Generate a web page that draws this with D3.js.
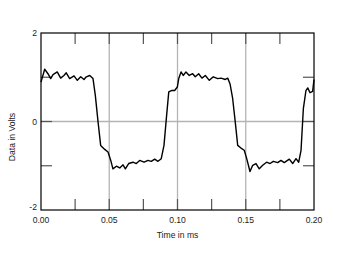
<!DOCTYPE html>
<html>
<head>
<meta charset="utf-8">
<script src="https://cdn.jsdelivr.net/npm/d3@7"></script>
<style>
  body { margin: 0; background: #fff; }
  svg text { font-family: "Liberation Sans", Arial, sans-serif; font-size: 8.6px; fill: #222; }
</style>
</head>
<body>
<svg id="chart" width="350" height="255"></svg>
<script>
// trace: time in ms
var times = [
  0.0000, 0.0027, 0.0051, 0.0071, 0.0088, 0.0119, 0.0144, 0.0168, 0.0185, 0.0210,
  0.0242, 0.0266, 0.0291, 0.0315, 0.0332, 0.0357, 0.0381, 0.0398, 0.0418, 0.0437,
  0.0467, 0.0491, 0.0511, 0.0527, 0.0552, 0.0577, 0.0601, 0.0618, 0.0642, 0.0674,
  0.0698, 0.0723, 0.0755, 0.0784, 0.0808, 0.0833, 0.0857, 0.0881, 0.0901, 0.0918,
  0.0936, 0.0955, 0.0979, 0.0999, 0.1009, 0.1026, 0.1042, 0.1062, 0.1086, 0.1111,
  0.1130, 0.1155, 0.1179, 0.1204, 0.1233, 0.1262, 0.1295, 0.1319, 0.1350, 0.1368,
  0.1385, 0.1404, 0.1423, 0.1441, 0.1465, 0.1489, 0.1507, 0.1531, 0.1551, 0.1575,
  0.1599, 0.1624, 0.1653, 0.1678, 0.1702, 0.1734, 0.1758, 0.1782, 0.1819, 0.1844,
  0.1868, 0.1888, 0.1905, 0.1922, 0.1941, 0.1954, 0.1971, 0.1990, 0.2000
];
// ... and the matching volts
var volts = [
  0.89, 1.18, 1.08, 0.97, 1.06, 1.12, 0.98, 1.04, 1.10, 0.97,
  1.03, 0.93, 1.01, 0.95, 1.01, 1.04, 0.97, 0.59, -0.01, -0.54,
  -0.63, -0.69, -0.88, -1.07, -1.01, -1.05, -0.98, -1.07, -0.95, -0.92,
  -0.95, -0.88, -0.92, -0.88, -0.90, -0.85, -0.90, -0.84, -0.54, 0.06,
  0.67, 0.70, 0.70, 0.78, 0.97, 1.12, 1.04, 1.12, 1.04, 1.08,
  1.01, 1.08, 0.98, 1.04, 0.93, 1.01, 0.97, 0.98, 0.95, 0.98,
  0.85, 0.52, -0.01, -0.54, -0.60, -0.65, -0.84, -1.13, -0.99, -0.95,
  -1.07, -0.99, -0.92, -0.95, -0.90, -0.93, -0.88, -0.93, -0.85, -0.95,
  -0.84, -0.92, -0.65, 0.29, 0.70, 0.76, 0.65, 0.68, 0.95
];
var xTicks = [0, 0.05, 0.10, 0.15, 0.20];
var xGrid = [0.05, 0.10, 0.15];
var xMinor = [0.025, 0.05, 0.075, 0.10, 0.125, 0.15, 0.175];
var yTicks = [-2, 0, 2];
var yMinor = [-1, 0, 1];

var frame = { left: 41, top: 33, right: 314, bottom: 210 };
var svg = d3.select('#chart');

var x = d3.scaleLinear().domain([0, 0.2]).range([frame.left, frame.right]);
var y = d3.scaleLinear().domain([-2, 2]).range([frame.bottom, frame.top]);

var points = times.map((t, i) => ({ t: t, v: volts[i] }));

// grid lines
svg.append('g').selectAll('line').data(xGrid).join('line')
  .attr('x1', d => x(d)).attr('x2', d => x(d))
  .attr('y1', frame.top).attr('y2', frame.bottom)
  .attr('stroke', '#b4b4b4').attr('stroke-width', 1.3);
svg.append('line')
  .attr('x1', frame.left).attr('x2', frame.right)
  .attr('y1', y(0)).attr('y2', y(0))
  .attr('stroke', '#b4b4b4').attr('stroke-width', 1.3);

// inward minor ticks on all four sides
var tickLen = 11;
var ticks = svg.append('g').attr('stroke', '#555').attr('stroke-width', 1.2);
xMinor.forEach(d => {
  ticks.append('line').attr('x1', x(d)).attr('x2', x(d)).attr('y1', frame.top).attr('y2', frame.top + tickLen);
  ticks.append('line').attr('x1', x(d)).attr('x2', x(d)).attr('y1', frame.bottom).attr('y2', frame.bottom - tickLen);
});
yMinor.forEach(d => {
  ticks.append('line').attr('y1', y(d)).attr('y2', y(d)).attr('x1', frame.left).attr('x2', frame.left + tickLen);
  ticks.append('line').attr('y1', y(d)).attr('y2', y(d)).attr('x1', frame.right).attr('x2', frame.right - tickLen);
});

// trace
var line = d3.line().x(d => x(d.t)).y(d => y(d.v));
svg.append('path').datum(points)
  .attr('d', line)
  .attr('fill', 'none').attr('stroke', '#000')
  .attr('stroke-width', 1.4).attr('stroke-linejoin', 'round');

// frame
svg.append('rect')
  .attr('x', frame.left).attr('y', frame.top)
  .attr('width', frame.right - frame.left).attr('height', frame.bottom - frame.top)
  .attr('fill', 'none').attr('stroke', '#000').attr('stroke-width', 1.2);

// tick labels
svg.append('g').selectAll('text').data(xTicks).join('text')
  .attr('x', d => x(d)).attr('y', frame.bottom + 13)
  .attr('text-anchor', 'middle')
  .text(d => d3.format('.2f')(d));
svg.append('g').selectAll('text').data(yTicks).join('text')
  .attr('x', frame.left - 4)
  .attr('y', d => d === -2 ? y(d) : y(d) + 3)
  .attr('text-anchor', 'end')
  .text(d => d);

// axis titles
svg.append('text').attr('x', (frame.left + frame.right) / 2).attr('y', 238)
  .attr('text-anchor', 'middle').text('Time in ms');
svg.append('text')
  .attr('transform', 'translate(15,137) rotate(-90)')
  .attr('text-anchor', 'middle').text('Data in Volts');
</script>
</body>
</html>
